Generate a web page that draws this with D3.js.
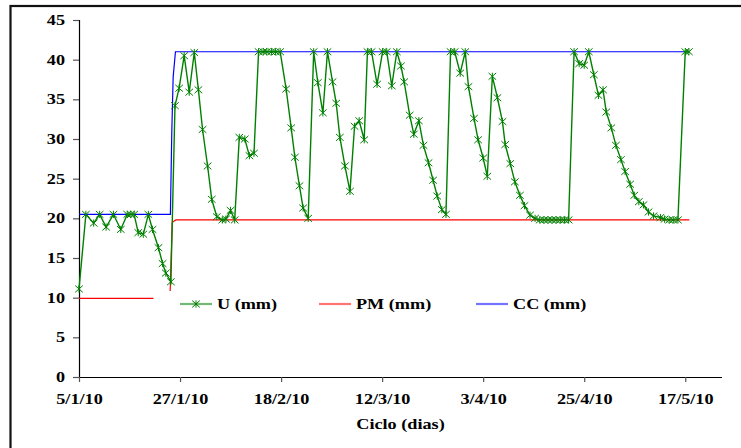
<!DOCTYPE html>
<html>
<head>
<meta charset="utf-8">
<script src="https://cdn.jsdelivr.net/npm/d3@7"></script>
<style>
  html, body { margin: 0; padding: 0; background: #fff; }
  svg { display: block; }
</style>
</head>
<body>
<svg id="chart" width="741" height="448"></svg>
<script>
// Soil water balance: U (storage), PM (wilting point), CC (field capacity), in days from 5/1/10
const uDays = [
  0, 1.5, 3.2, 4.5, 5.9, 7.5, 9.1, 10.5, 11.3, 12.0,
  12.9, 14.0, 15.1, 16.0, 17.3, 18.2, 18.9, 20.0, 20.9, 21.8,
  22.9, 24.0, 25.1, 26.0, 26.9, 28.0, 28.9, 30.0, 31.2, 32.0,
  33.0, 33.9, 34.9, 36.1, 37.1, 38.1, 39.1, 40.1, 40.9, 41.9,
  42.8, 43.8, 45.1, 46.2, 47.0, 48.0, 48.8, 49.9, 51.1, 52.0,
  53.1, 54.1, 55.2, 56.0, 56.8, 57.9, 59.0, 60.0, 61.0, 62.1,
  62.8, 63.7, 64.9, 66.1, 67.0, 68.1, 69.2, 70.1, 70.8, 72.0,
  72.9, 74.0, 75.0, 76.1, 77.1, 78.0, 79.0, 79.9, 80.9, 81.8,
  83.0, 84.1, 84.8, 86.0, 86.9, 88.0, 88.9, 90.0, 91.1, 92.2,
  92.8, 93.9, 94.9, 96.0, 97.0, 98.2, 99.3, 100.3, 101.2, 102.1,
  103.0, 103.9, 104.8, 105.7, 106.6, 107.8, 108.9, 110.0, 111.0, 112.1,
  113.1, 114.1, 114.8, 115.9, 116.9, 118.0, 118.9, 120.0, 120.9, 121.9,
  122.9, 124.0, 125.1, 126.6, 127.5, 128.5, 129.4, 130.4, 132.0, 132.8
];
const uValues = [
  11.1, 20.5, 19.4, 20.5, 18.9, 20.5, 18.6, 20.5, 20.5, 20.5,
  18.2, 18.0, 20.5, 18.6, 16.3, 14.3, 13.1, 12.0, 34.2, 36.4,
  40.5, 35.9, 40.9, 36.2, 31.2, 26.6, 22.4, 20.2, 19.8, 19.9,
  21.0, 19.8, 30.2, 30.0, 27.9, 28.2, 41.0, 41.0, 41.0, 41.0,
  41.0, 41.0, 36.3, 31.4, 27.7, 24.1, 21.3, 20.0, 41.0, 37.1,
  33.3, 41.0, 37.2, 34.5, 30.2, 26.6, 23.4, 31.6, 32.3, 29.9,
  41.0, 41.0, 36.9, 41.0, 41.0, 36.7, 41.0, 39.2, 37.2, 33.0,
  30.6, 32.3, 29.2, 27.0, 24.8, 22.8, 21.1, 20.5, 41.0, 41.0,
  38.3, 41.0, 36.6, 32.6, 29.9, 27.6, 25.3, 37.9, 35.2, 32.2,
  29.3, 26.9, 24.6, 22.9, 21.6, 20.4, 20.0, 19.8, 19.8, 19.8,
  19.8, 19.8, 19.8, 19.8, 19.8, 41.0, 39.5, 39.3, 41.0, 38.1,
  35.5, 36.2, 33.4, 31.4, 29.2, 27.4, 25.9, 24.3, 22.9, 22.1,
  21.7, 20.8, 20.3, 20.1, 19.9, 19.8, 19.8, 19.8, 41.0, 41.0
];
const pmDays   = [0, 19.8, 20.3, 21.1, 132.9];
const pmValues = [9.9, 9.9, 19.5, 19.8, 19.8];
const ccDays   = [0, 19.9, 20.2, 20.5, 21.0, 132.9];
const ccValues = [20.5, 20.5, 30.8, 37.8, 41.0, 41.0];

const xTickDays   = [0, 22, 44, 66, 88, 110, 132];
const xTickLabels = ["5/1/10", "27/1/10", "18/2/10", "12/3/10", "3/4/10", "25/4/10", "17/5/10"];
const yTicks      = [0, 5, 10, 15, 20, 25, 30, 35, 40, 45];
const seriesNames = ["U (mm)", "PM (mm)", "CC (mm)"];
const seriesColors = ["#008000", "#ff0000", "#0000ff"];

const svg = d3.select("#chart");
const plotLeft = 79, plotRight = 722, plotTop = 20, plotBottom = 377;
const stretch = 1.3;   // wide bold serif lettering
const fs = 14;
const fontFamily = "'Liberation Serif', 'DejaVu Serif', serif";

const x = d3.scaleLinear().domain([0, 140]).range([plotLeft, plotRight]);
const y = d3.scaleLinear().domain([0, 45]).range([plotBottom, plotTop]);

function styleText(sel) {
  sel.attr("font-family", fontFamily).attr("font-weight", "bold")
     .attr("font-size", fs).attr("fill", "#000")
     .style("font-family", fontFamily).style("font-weight", "bold");
}

// frame
svg.append("rect")
  .attr("x", 10.5).attr("y", 6).attr("width", 800).attr("height", 500)
  .attr("fill", "#fff").attr("stroke", "#111").attr("stroke-width", 2.2);

// axes
const yAxis = svg.append("g")
  .attr("transform", `translate(${plotLeft},0)`)
  .call(d3.axisLeft(y).tickValues(yTicks).tickSize(6).tickPadding(0).tickFormat(d3.format("d")));
const xAxis = svg.append("g")
  .attr("transform", `translate(0,${plotBottom})`)
  .call(d3.axisBottom(x).tickValues(xTickDays).tickSize(5).tickPadding(0)
        .tickFormat((d, i) => xTickLabels[i]));

[yAxis, xAxis].forEach(g => {
  g.attr("font-family", fontFamily).attr("font-size", fs);
  g.select(".domain").attr("stroke", "#000").attr("stroke-width", 1.2);
  g.selectAll(".tick line").attr("stroke", "#555").attr("stroke-width", 1.2);
  styleText(g.selectAll("text"));
});
yAxis.select(".domain").attr("d", `M0.5,${plotTop}V${plotBottom}`);
xAxis.select(".domain").attr("d", `M${plotLeft},0.5H${plotRight}`);
yAxis.selectAll(".tick text")
  .attr("x", null).attr("dy", null).attr("text-anchor", "end")
  .attr("transform", `translate(-14,4.6) scale(${stretch},1)`);
xAxis.selectAll(".tick text")
  .attr("y", null).attr("dy", null).attr("text-anchor", "middle")
  .attr("transform", `translate(0,26.5) scale(${stretch},1)`);

function label(txt, px, py, anchor) {
  const t = svg.append("text")
    .attr("text-anchor", anchor || "start")
    .attr("transform", `translate(${px},${py}) scale(${stretch},1)`)
    .text(txt);
  styleText(t);
}
label("Ciclo (dias)", (plotLeft + plotRight) / 2, 428.6, "middle");

const line = d3.line().x(d => x(d[0])).y(d => y(d[1]));
const pmData = pmDays.map((d, i) => [d, pmValues[i]]);
const ccData = ccDays.map((d, i) => [d, ccValues[i]]);
const uData  = uDays.map((d, i) => [d, uValues[i]]);

svg.append("path").datum(pmData).attr("d", line)
  .attr("fill", "none").attr("stroke", seriesColors[1]).attr("stroke-width", 1.2);
svg.append("path").datum(ccData).attr("d", line)
  .attr("fill", "none").attr("stroke", seriesColors[2]).attr("stroke-width", 1.2);
svg.append("path").datum(uData).attr("d", line)
  .attr("fill", "none").attr("stroke", seriesColors[0]).attr("stroke-width", 1.4);

const star = "M-3.8,-3.4L3.8,3.4M-3.8,3.4L3.8,-3.4M0,-3.6V3.6";
svg.append("g").selectAll("path").data(uData).join("path")
  .attr("transform", d => `translate(${x(d[0])},${y(d[1])})`)
  .attr("d", star).attr("fill", "none")
  .attr("stroke", seriesColors[0]).attr("stroke-width", 1);

// legend (opaque box over the plot)
const lg = svg.append("g");
lg.append("rect").attr("x", 153.5).attr("y", 291).attr("width", 458).attr("height", 25).attr("fill", "#fff");
const legendLineX = [180, 319, 476];
const legendY = 304;
seriesNames.forEach((name, i) => {
  lg.append("line")
    .attr("x1", legendLineX[i]).attr("x2", legendLineX[i] + 32)
    .attr("y1", legendY).attr("y2", legendY)
    .attr("stroke", seriesColors[i]).attr("stroke-width", 2.2).attr("stroke-opacity", 0.55);
  if (i === 0) {
    lg.append("path").attr("d", star)
      .attr("transform", `translate(${legendLineX[i] + 16},${legendY})`)
      .attr("fill", "none").attr("stroke", seriesColors[0]).attr("stroke-width", 1);
  }
  label(name, legendLineX[i] + 37, 308.5, "start");
});
</script>
</body>
</html>
